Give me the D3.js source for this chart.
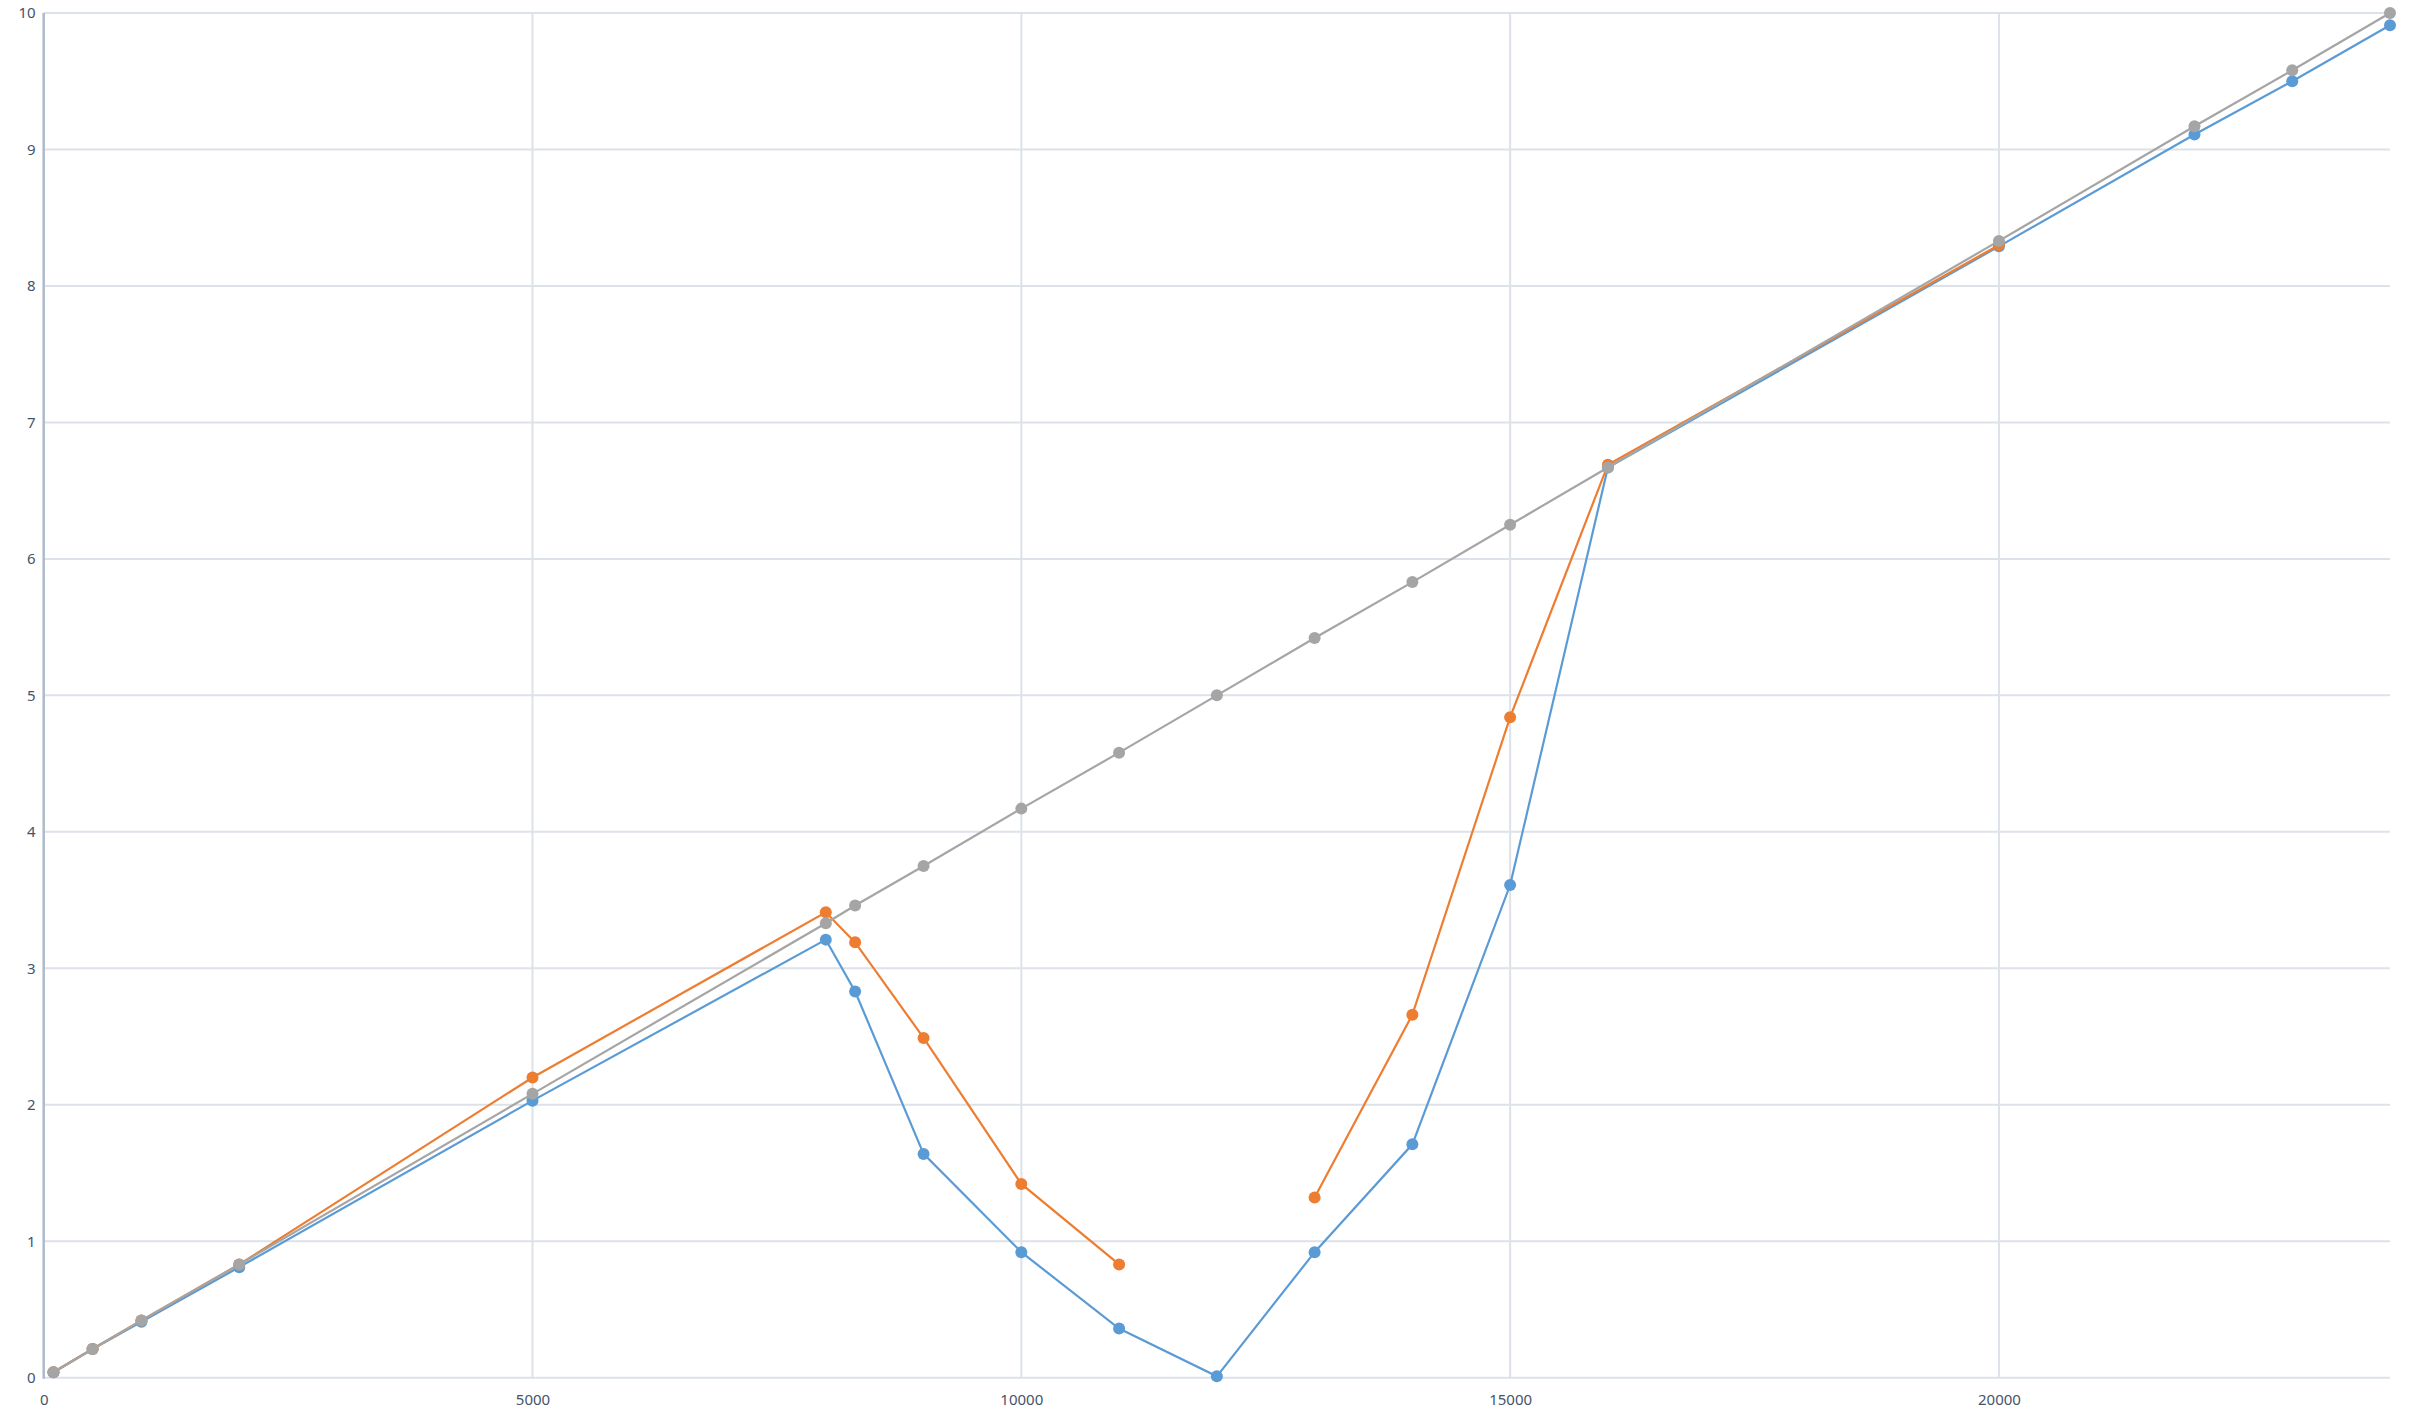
<!DOCTYPE html>
<html>
<head>
<meta charset="utf-8">
<script src="https://cdn.jsdelivr.net/npm/d3@7"></script>
<style>
  body { margin: 0; background: #fff; }
  .axis text { font-family: "Noto Sans", sans-serif; font-size: 15px; fill: #44546a; }
</style>
</head>
<body>
<script>
// x values shared by the series
var xs = [100, 500, 1000, 2000, 5000, 8000, 8300, 9000, 10000, 11000, 12000,
          13000, 14000, 15000, 16000, 20000, 22000, 23000, 24000];

// series values (null = no point)
var blueVals   = [0.04, 0.21, 0.41, 0.81, 2.03, 3.21, 2.83, 1.64, 0.92, 0.36, 0.01,
                  0.92, 1.71, 3.61, 6.67, 8.29, 9.11, 9.50, 9.91];
var orangeVals = [0.04, 0.21, 0.42, 0.83, 2.20, 3.41, 3.19, 2.49, 1.42, 0.83, null,
                  1.32, 2.66, 4.84, 6.69, 8.30, null, null, null];
var grayVals   = [0.04, 0.21, 0.42, 0.83, 2.08, 3.33, 3.46, 3.75, 4.17, 4.58, 5.00,
                  5.42, 5.83, 6.25, 6.67, 8.33, 9.17, 9.58, 10.00];

var xTicks = [0, 5000, 10000, 15000, 20000];
var yTicks = [0, 1, 2, 3, 4, 5, 6, 7, 8, 9, 10];

var series = [
  { name: "blue",   color: "#5b9bd5", values: blueVals },
  { name: "orange", color: "#ed7d31", values: orangeVals },
  { name: "gray",   color: "#a5a5a5", values: grayVals }
];

var box = { w: 2429, h: 1420, left: 43.7, right: 2390, top: 13, bottom: 1377.7 };

var svg = d3.select("body").append("svg")
    .attr("width", box.w)
    .attr("height", box.h);

var xScale = d3.scaleLinear().domain([0, 24000]).range([box.left, box.right]);
var yScale = d3.scaleLinear().domain([0, 10]).range([box.bottom, box.top]);

// horizontal grid
svg.append("g").selectAll("line")
    .data(yTicks)
    .enter().append("line")
    .attr("x1", box.left).attr("x2", box.right)
    .attr("y1", d => yScale(d)).attr("y2", d => yScale(d))
    .attr("stroke", "#dde1e8")
    .attr("stroke-width", 2);

// vertical grid
svg.append("g").selectAll("line")
    .data(xTicks.filter(d => d > 0))
    .enter().append("line")
    .attr("y1", box.top).attr("y2", box.bottom)
    .attr("x1", d => xScale(d)).attr("x2", d => xScale(d))
    .attr("stroke", "#dde1e8")
    .attr("stroke-width", 2);

// y axis line
svg.append("line")
    .attr("x1", box.left).attr("x2", box.left)
    .attr("y1", box.top).attr("y2", box.bottom + 1)
    .attr("stroke", "#aebacb")
    .attr("stroke-width", 2.5);

// axis labels
var yAxis = d3.axisLeft(yScale).tickValues(yTicks).tickSize(0).tickPadding(8);
var gy = svg.append("g").attr("class", "axis")
    .attr("transform", "translate(" + box.left + ",0)")
    .call(yAxis);
gy.select(".domain").remove();

var xAxis = d3.axisBottom(xScale).tickValues(xTicks).tickSize(0).tickPadding(17)
    .tickFormat(d3.format("d"));
var gx = svg.append("g").attr("class", "axis")
    .attr("transform", "translate(0," + box.bottom + ")")
    .call(xAxis);
gx.select(".domain").remove();

// lines and markers
var line = d3.line()
    .defined(d => d[1] !== null)
    .x(d => xScale(d[0]))
    .y(d => yScale(d[1]));

series.forEach(function(s) {
  var pts = xs.map((x, i) => [x, s.values[i]]);
  var g = svg.append("g");
  g.append("path")
    .datum(pts)
    .attr("d", line)
    .attr("fill", "none")
    .attr("stroke", s.color)
    .attr("stroke-width", 2.2);
  g.selectAll("circle")
    .data(pts.filter(d => d[1] !== null))
    .enter().append("circle")
    .attr("cx", d => xScale(d[0]))
    .attr("cy", d => yScale(d[1]))
    .attr("r", 6)
    .attr("fill", s.color);
});
</script>
</body>
</html>
